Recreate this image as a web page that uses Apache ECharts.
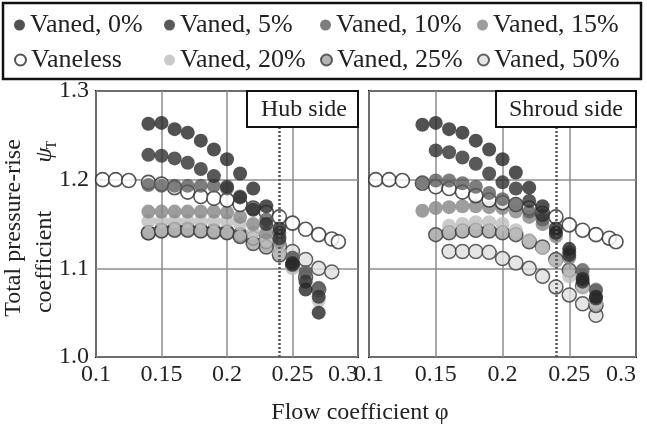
<!DOCTYPE html>
<html>
<head>
<meta charset="utf-8">
<script src="https://cdn.jsdelivr.net/npm/echarts@6/dist/echarts.min.js"></script>
<style>
  html, body { margin: 0; padding: 0; background: #fff; }
  #chart { width: 647px; height: 434px; }
</style>
</head>
<body>
<div id="chart"></div>
<script>
// flow coefficient positions
const phiMain = [0.14, 0.15, 0.16, 0.17, 0.18, 0.19, 0.20, 0.21, 0.22, 0.23, 0.24, 0.25, 0.26, 0.27];
const phiFrom15 = [0.15, 0.16, 0.17, 0.18, 0.19, 0.20, 0.21, 0.22, 0.23, 0.24, 0.25, 0.26, 0.27];
const phiFrom16 = [0.16, 0.17, 0.18, 0.19, 0.20, 0.21, 0.22, 0.23, 0.24, 0.25, 0.26, 0.27];
const phiTo28 = [0.14, 0.15, 0.16, 0.17, 0.18, 0.19, 0.20, 0.21, 0.22, 0.23, 0.24, 0.25, 0.26, 0.27, 0.28];
const phiVaneless = [0.105, 0.115, 0.125, 0.14, 0.15, 0.16, 0.17, 0.18, 0.19, 0.20, 0.21, 0.22, 0.23, 0.24, 0.25, 0.26, 0.27, 0.28, 0.285];

// hub side
const hubV0 = [1.263, 1.264, 1.257, 1.253, 1.244, 1.234, 1.223, 1.207, 1.190, 1.170, 1.145, 1.104, 1.076, 1.050];
const hubV5 = [1.228, 1.227, 1.224, 1.219, 1.212, 1.204, 1.192, 1.180, 1.166, 1.150, 1.134, 1.106, 1.085, 1.068];
const hubV10 = [1.194, 1.193, 1.193, 1.193, 1.193, 1.193, 1.190, 1.181, 1.168, 1.155, 1.140, 1.112, 1.096, 1.078];
const hubV15 = [1.164, 1.164, 1.164, 1.164, 1.164, 1.164, 1.163, 1.158, 1.150, 1.140, 1.130, 1.112, 1.094, 1.075];
const hubV20 = [1.153, 1.153, 1.153, 1.153, 1.153, 1.153, 1.153, 1.150, 1.140, 1.132, 1.118, 1.100, 1.085, 1.064];
const hubV25 = [1.140, 1.142, 1.143, 1.143, 1.142, 1.141, 1.140, 1.136, 1.128, 1.124, 1.115, 1.104, 1.090, 1.076];
const hubV50 = [1.140, 1.143, 1.144, 1.144, 1.143, 1.142, 1.141, 1.138, 1.134, 1.130, 1.125, 1.119, 1.110, 1.100, 1.096];
const hubVaneless = [1.200, 1.200, 1.199, 1.197, 1.195, 1.191, 1.186, 1.181, 1.179, 1.177, 1.172, 1.168, 1.163, 1.158, 1.151, 1.144, 1.138, 1.133, 1.130];

// shroud side
const shrV0 = [1.262, 1.264, 1.257, 1.253, 1.244, 1.234, 1.223, 1.208, 1.191, 1.170, 1.145, 1.122, 1.088, 1.068];
const shrV5 = [1.233, 1.231, 1.225, 1.218, 1.207, 1.197, 1.190, 1.176, 1.160, 1.140, 1.115, 1.085, 1.066];
const shrV10 = [1.197, 1.199, 1.199, 1.196, 1.192, 1.185, 1.178, 1.172, 1.164, 1.155, 1.140, 1.118, 1.098, 1.075];
const shrV15 = [1.165, 1.168, 1.169, 1.170, 1.170, 1.169, 1.168, 1.164, 1.158, 1.150, 1.136, 1.112, 1.092, 1.076];
const shrV20 = [1.148, 1.150, 1.152, 1.152, 1.150, 1.143, 1.132, 1.123, 1.108, 1.091, 1.078, 1.061];
const shrV25 = [1.138, 1.140, 1.142, 1.143, 1.142, 1.140, 1.138, 1.130, 1.124, 1.110, 1.098, 1.080, 1.058];
const shrV50 = [1.119, 1.119, 1.119, 1.118, 1.111, 1.106, 1.100, 1.091, 1.079, 1.070, 1.060, 1.047];
const shrVaneless = [1.200, 1.200, 1.199, 1.196, 1.192, 1.190, 1.186, 1.182, 1.177, 1.174, 1.172, 1.168, 1.162, 1.158, 1.149, 1.143, 1.138, 1.134, 1.130];

const xTicks = [0.1, 0.15, 0.2, 0.25, 0.3];
const yTicks = [1.0, 1.1, 1.2, 1.3];
const designPhi = 0.24;

const serif = "'Liberation Serif', 'Times New Roman', serif";
const chart = echarts.init(document.getElementById('chart'));

function pairs(xs, ys) {
  return xs.map((x, i) => [x, ys[i]]);
}

// marker look per case
const looks = {
  'Vaned, 0%': { color: '#262626' },
  'Vaned, 5%': { color: '#303030' },
  'Vaned, 10%': { color: '#5c5c5c' },
  'Vaned, 15%': { color: '#858585' },
  'Vaned, 20%': { color: '#bdbdbd' },
  'Vaned, 25%': { color: '#a2a2a2', borderColor: '#3a3a3a', borderWidth: 1.5 },
  'Vaned, 50%': { color: '#dedede', borderColor: '#3a3a3a', borderWidth: 1.5 },
  'Vaneless': { color: '#ffffff', borderColor: '#2a2a2a', borderWidth: 1.6 }
};

const hubSets = [
  ['Vaned, 50%', phiTo28, hubV50],
  ['Vaned, 25%', phiMain, hubV25],
  ['Vaned, 20%', phiMain, hubV20],
  ['Vaned, 15%', phiMain, hubV15],
  ['Vaneless', phiVaneless, hubVaneless],
  ['Vaned, 10%', phiMain, hubV10],
  ['Vaned, 5%', phiMain, hubV5],
  ['Vaned, 0%', phiMain, hubV0]
];
const shroudSets = [
  ['Vaned, 50%', phiFrom16, shrV50],
  ['Vaned, 25%', phiFrom15, shrV25],
  ['Vaned, 20%', phiFrom16, shrV20],
  ['Vaned, 15%', phiMain, shrV15],
  ['Vaneless', phiVaneless, shrVaneless],
  ['Vaned, 10%', phiMain, shrV10],
  ['Vaned, 5%', phiFrom15, shrV5],
  ['Vaned, 0%', phiMain, shrV0]
];

function panelSeries(sets, idx) {
  const list = sets.map(([name, xs, ys]) => ({
    name: name,
    type: 'scatter',
    xAxisIndex: idx,
    yAxisIndex: idx,
    symbol: 'circle',
    symbolSize: 14,
    itemStyle: looks[name],
    data: pairs(xs, ys)
  }));
  list[0].markLine = {
    silent: true,
    symbol: ['none', 'none'],
    label: { show: false },
    lineStyle: { color: '#555', width: 2.5, type: [2, 2] },
    data: [{ xAxis: designPhi }]
  };
  return list;
}

function xAxisFor(idx) {
  return {
    type: 'value',
    gridIndex: idx,
    min: xTicks[0],
    max: xTicks[xTicks.length - 1],
    interval: 0.05,
    axisLine: { show: false },
    axisTick: { show: false },
    axisLabel: {
      fontFamily: serif, fontSize: 24, color: '#222', margin: 6,
      alignMaxLabel: 'right',
      formatter: (v) => String(+v.toFixed(2))
    },
    splitLine: { lineStyle: { color: '#8c8c8c', width: 1.5 } }
  };
}

function yAxisFor(idx) {
  return {
    type: 'value',
    gridIndex: idx,
    min: yTicks[0],
    max: yTicks[yTicks.length - 1],
    interval: 0.1,
    axisLine: { show: false },
    axisTick: { show: false },
    axisLabel: {
      show: idx === 0,
      fontFamily: serif, fontSize: 24, color: '#222', margin: 7,
      formatter: (v) => v.toFixed(1)
    },
    splitLine: { lineStyle: { color: '#8c8c8c', width: 1.5 } }
  };
}

const legendSlots = [
  ['Vaned, 0%', 14, 12], ['Vaned, 5%', 164, 12], ['Vaned, 10%', 320, 12], ['Vaned, 15%', 477, 12],
  ['Vaneless', 14, 47], ['Vaned, 20%', 164, 47], ['Vaned, 25%', 320, 47], ['Vaned, 50%', 477, 47]
];

const option = {
  animation: false,
  backgroundColor: '#fff',
  legend: legendSlots.map(([name, left, top]) => ({
    data: [name],
    left: left,
    top: top,
    padding: 0,
    icon: 'circle',
    itemWidth: 11,
    itemHeight: 11,
    selectedMode: false,
    textStyle: { fontFamily: serif, fontSize: 26, color: '#222' }
  })),
  grid: [
    { left: 96, top: 91, width: 262, height: 266, show: true, borderColor: '#111', borderWidth: 2, backgroundColor: 'transparent' },
    { left: 369, top: 91, width: 267, height: 266, show: true, borderColor: '#111', borderWidth: 2, backgroundColor: 'transparent' }
  ],
  xAxis: [xAxisFor(0), xAxisFor(1)],
  yAxis: [yAxisFor(0), yAxisFor(1)],
  series: panelSeries(hubSets, 0).concat(panelSeries(shroudSets, 1)),
  graphic: [
    { type: 'rect', z: 100, shape: { x: 3, y: 3, width: 638, height: 76 },
      style: { fill: 'none', stroke: '#111', lineWidth: 2.5 } },
    { type: 'rect', z: 100, shape: { x: 247, y: 91, width: 111, height: 36 },
      style: { fill: '#fff', stroke: '#111', lineWidth: 2 } },
    { type: 'text', z: 101, x: 304, y: 110,
      style: { text: 'Hub side', font: '24px ' + serif, fill: '#222', textAlign: 'center', textVerticalAlign: 'middle' } },
    { type: 'rect', z: 100, shape: { x: 496, y: 91, width: 140, height: 36 },
      style: { fill: '#fff', stroke: '#111', lineWidth: 2 } },
    { type: 'text', z: 101, x: 566, y: 110,
      style: { text: 'Shroud side', font: '24px ' + serif, fill: '#222', textAlign: 'center', textVerticalAlign: 'middle' } },
    { type: 'text', z: 101, x: 14, y: 228, rotation: Math.PI / 2,
      style: { text: 'Total pressure-rise', font: '24px ' + serif, fill: '#222', textAlign: 'center', textVerticalAlign: 'middle' } },
    { type: 'text', z: 101, x: 45, y: 262, rotation: Math.PI / 2,
      style: { text: 'coefficient', font: '24px ' + serif, fill: '#222', textAlign: 'center', textVerticalAlign: 'middle' } },
    { type: 'text', z: 101, x: 45, y: 155, rotation: Math.PI / 2,
      style: { text: 'ψ', font: 'italic 24px ' + serif, fill: '#222', textAlign: 'center', textVerticalAlign: 'middle' } },
    { type: 'text', z: 101, x: 52, y: 145, rotation: Math.PI / 2,
      style: { text: 'T', font: '14px ' + serif, fill: '#222', textAlign: 'center', textVerticalAlign: 'middle' } },
    { type: 'text', z: 101, x: 360, y: 413,
      style: { text: 'Flow coefficient φ', font: '24px ' + serif, fill: '#222', textAlign: 'center', textVerticalAlign: 'middle' } }
  ]
};

chart.setOption(option);
</script>
</body>
</html>
